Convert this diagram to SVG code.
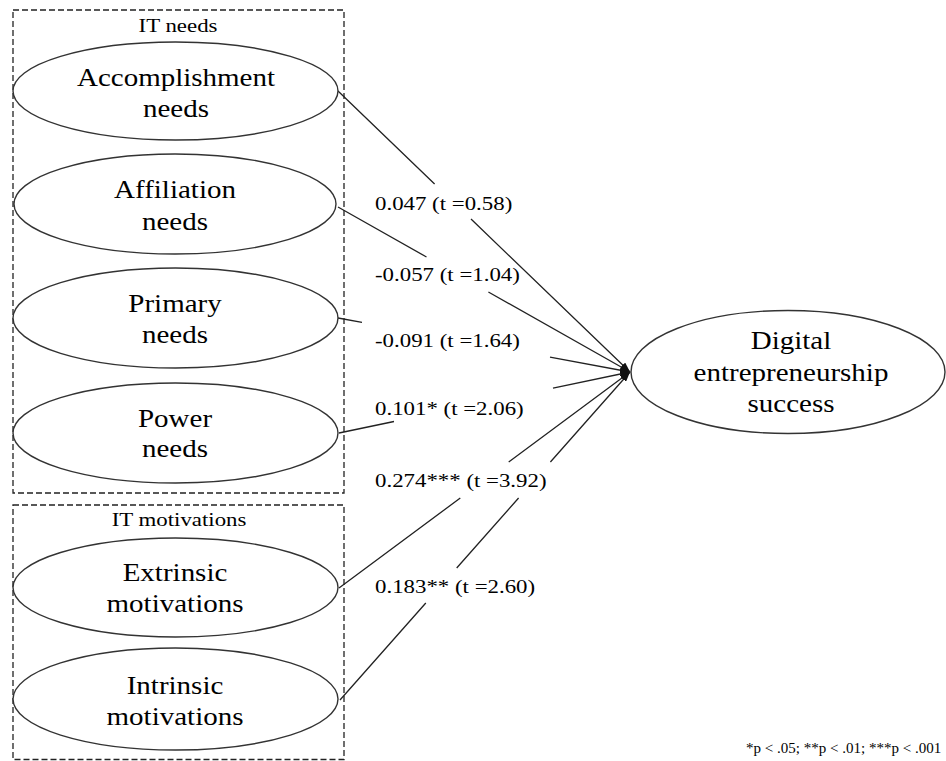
<svg xmlns="http://www.w3.org/2000/svg" width="946" height="761" viewBox="0 0 946 761">
  <style>
    .bg { fill: #ffffff; }
    .box { fill: none; stroke: #222; stroke-width: 1.3; stroke-dasharray: 6 3; }
    .ell { fill: #ffffff; stroke: #333; stroke-width: 1.4; }
    text { font-family: "Liberation Serif", "Times New Roman", serif; fill: #000; }
    .node { font-size: 25px; text-anchor: middle; }
    .grp { font-size: 19.7px; text-anchor: middle; }
    .lbl { font-size: 19.7px; text-anchor: start; }
    .note { font-size: 14.6px; text-anchor: start; }
    .conn { fill: none; stroke: #222; stroke-width: 1.3; marker-end: url(#arrow); }
  </style>
  <defs>
    <marker id="arrow" markerUnits="userSpaceOnUse" markerWidth="10" markerHeight="7" refX="10" refY="3.5" orient="auto">
      <path d="M0,0 L10,3.5 L0,7 z" fill="#111"/>
    </marker>
  </defs>
  <rect class="bg" x="0" y="0" width="946" height="761"/>

  <g id="group-boxes">
    <rect class="box" x="13" y="10" width="331" height="483"/>
    <text class="grp" transform="translate(178 32) scale(1.16 1)">IT needs</text>
    <rect class="box" x="13" y="505" width="331" height="254.5"/>
    <text class="grp" transform="translate(179 525.7) scale(1.16 1)">IT motivations</text>
  </g>

  <g id="connectors">
    <path class="conn" d="M338,91 L434.6,184 M471,219 L630,372"/>
    <path class="conn" d="M338,207 L426.5,257 M488.4,292 L630,372"/>
    <path class="conn" d="M338,318 L362,322.4 M550,357.2 L630,372"/>
    <path class="conn" d="M339,433 L394,421.5 M553,388.1 L630,372"/>
    <path class="conn" d="M339,588 L460.3,498 M508.7,462 L630,372"/>
    <path class="conn" d="M340,700 L425.8,603 M456.7,568 L518.6,498 M550.4,462 L630,372"/>
  </g>

  <g id="labels">
    <text class="lbl" transform="translate(375 210) scale(1.16 1)">0.047 (t =0.58)</text>
    <text class="lbl" transform="translate(375 281) scale(1.16 1)">-0.057 (t =1.04)</text>
    <text class="lbl" transform="translate(375 346.7) scale(1.16 1)">-0.091 (t =1.64)</text>
    <text class="lbl" transform="translate(375 415) scale(1.16 1)">0.101* (t =2.06)</text>
    <text class="lbl" transform="translate(375 487) scale(1.16 1)">0.274*** (t =3.92)</text>
    <text class="lbl" transform="translate(375 593.3) scale(1.16 1)">0.183** (t =2.60)</text>
  </g>

  <g id="n-accomplishment">
    <ellipse class="ell" cx="175.5" cy="91" rx="162.5" ry="49"/>
    <text class="node" transform="translate(176 86) scale(1.16 1)">Accomplishment</text>
    <text class="node" transform="translate(176 116.7) scale(1.16 1)">needs</text>
  </g>
  <g id="n-affiliation">
    <ellipse class="ell" cx="175" cy="204" rx="161" ry="50"/>
    <text class="node" transform="translate(175 198.3) scale(1.16 1)">Affiliation</text>
    <text class="node" transform="translate(175 229.5) scale(1.16 1)">needs</text>
  </g>
  <g id="n-primary">
    <ellipse class="ell" cx="175.5" cy="318" rx="162.5" ry="50"/>
    <text class="node" transform="translate(175 311.7) scale(1.16 1)">Primary</text>
    <text class="node" transform="translate(175 342.7) scale(1.16 1)">needs</text>
  </g>
  <g id="n-power">
    <ellipse class="ell" cx="175.5" cy="433" rx="162.5" ry="50"/>
    <text class="node" transform="translate(175 426.7) scale(1.16 1)">Power</text>
    <text class="node" transform="translate(175 456.7) scale(1.16 1)">needs</text>
  </g>
  <g id="n-extrinsic">
    <ellipse class="ell" cx="175.5" cy="587.5" rx="162.5" ry="49.5"/>
    <text class="node" transform="translate(175 580.7) scale(1.16 1)">Extrinsic</text>
    <text class="node" transform="translate(175 611.7) scale(1.16 1)">motivations</text>
  </g>
  <g id="n-intrinsic">
    <ellipse class="ell" cx="175.5" cy="699" rx="162.5" ry="51"/>
    <text class="node" transform="translate(175 694) scale(1.16 1)">Intrinsic</text>
    <text class="node" transform="translate(175 725) scale(1.16 1)">motivations</text>
  </g>
  <g id="n-success">
    <ellipse class="ell" cx="788" cy="372" rx="157" ry="61.5"/>
    <text class="node" transform="translate(791 349) scale(1.16 1)">Digital</text>
    <text class="node" transform="translate(791 381) scale(1.16 1)">entrepreneurship</text>
    <text class="node" transform="translate(791 411.7) scale(1.16 1)">success</text>
  </g>

  <g id="footnote">
    <text class="note" transform="translate(746 753) scale(1.03 1)">*p &lt; .05; **p &lt; .01; ***p &lt; .001</text>
  </g>
</svg>
